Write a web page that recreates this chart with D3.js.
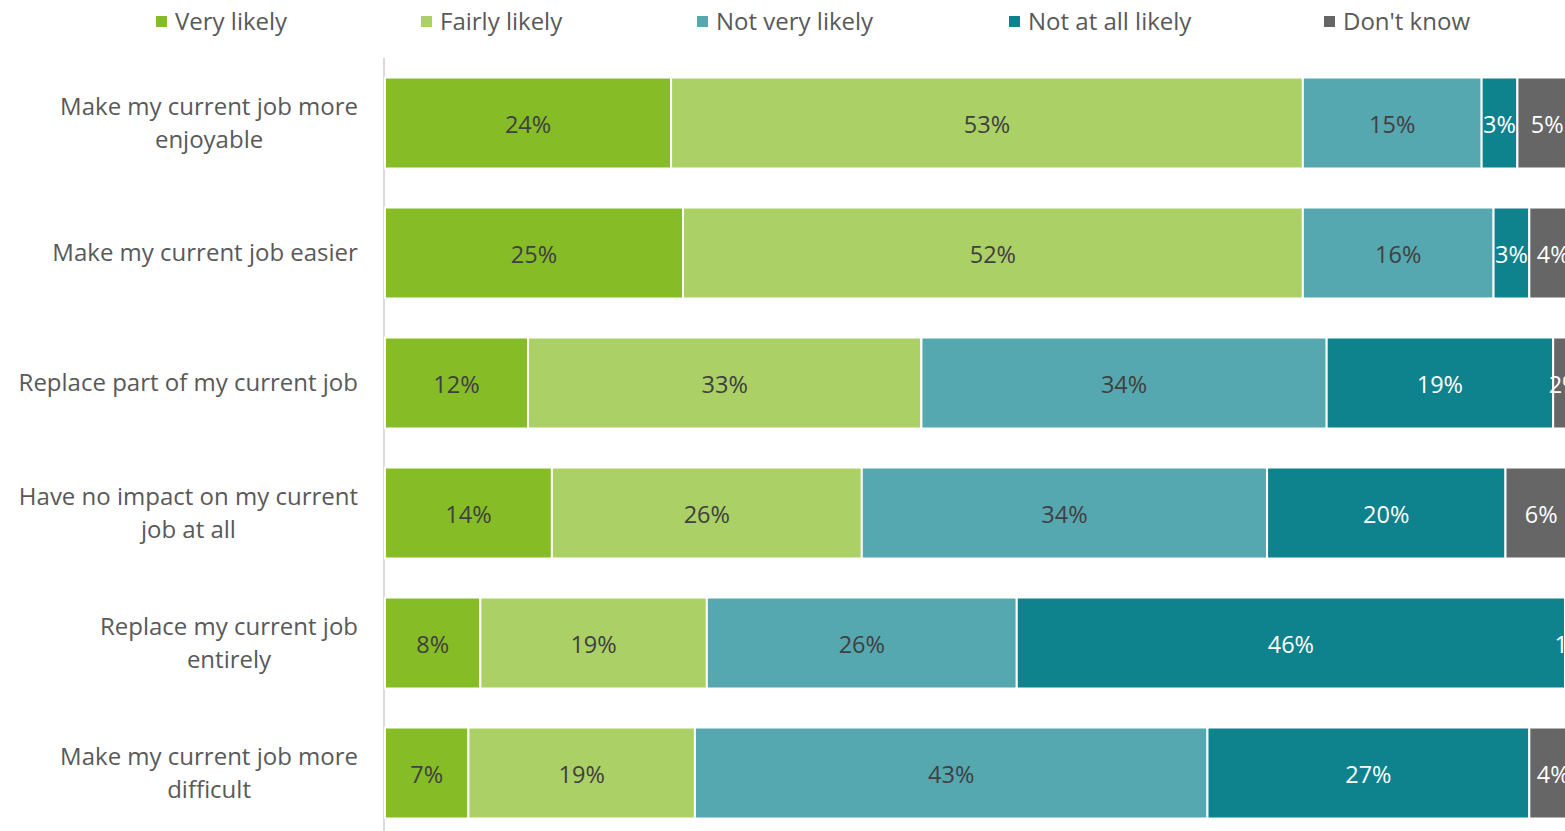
<!DOCTYPE html>
<html>
<head>
<meta charset="utf-8">
<script src="https://cdn.jsdelivr.net/npm/d3@7"></script>
<style>
  body { margin: 0; background: #fff; }
  svg { display: block; font-family: "Open Sans", sans-serif; }
</style>
</head>
<body>
<svg id="chart"></svg>
<script>
// Stacked horizontal bar - likelihood of impact on current job
const width = 1565;
const height = 831;

const categories = [
    "Make my current job more\nenjoyable",
    "Make my current job easier",
    "Replace part of my current job",
    "Have no impact on my current\njob at all",
    "Replace my current job\nentirely",
    "Make my current job more\ndifficult"
];
const seriesNames = ["Very likely", "Fairly likely", "Not very likely", "Not at all likely", "Don't know"];
const veryLikely = [24, 25, 12, 14, 8, 7];
const fairlyLikely = [53, 52, 33, 26, 19, 19];
const notVeryLikely = [15, 16, 34, 34, 26, 43];
const notAtAllLikely = [3, 3, 19, 20, 46, 27];
const dontKnow = [5, 4, 2, 6, 1, 4];

const colors = ["#86bc25", "#abd066", "#56a8b0", "#0e828d", "#666666"];
const textColors = ["#404040", "#404040", "#404040", "#ffffff", "#ffffff"];

function createChart() {
    const chart = d3.select("#chart")
        .attr("width", width)
        .attr("height", height);

    const rows = categories.map((c, i) => ({
        name: c,
        "Very likely": veryLikely[i],
        "Fairly likely": fairlyLikely[i],
        "Not very likely": notVeryLikely[i],
        "Not at all likely": notAtAllLikely[i],
        "Don't know": dontKnow[i]
    }));
    const stacked = d3.stack().keys(seriesNames)(rows);

    const x = d3.scaleLinear().domain([0, 100]).range([385, 1577]);
    const y = d3.scaleBand()
        .domain(categories)
        .range([58, 838])
        .paddingInner(0.3)
        .paddingOuter(0.15);

    // vertical axis line
    chart.append("line")
        .attr("x1", 384).attr("x2", 384)
        .attr("y1", 58).attr("y2", height)
        .attr("stroke", "#d9d9d9")
        .attr("stroke-width", 2);

    // bars
    const layer = chart.append("g")
        .selectAll("g")
        .data(stacked)
        .join("g")
        .attr("fill", (d, i) => colors[i]);

    layer.selectAll("rect")
        .data(d => d)
        .join("rect")
        .attr("x", d => x(d[0]))
        .attr("y", d => y(d.data.name))
        .attr("width", d => x(d[1]) - x(d[0]))
        .attr("height", y.bandwidth())
        .attr("stroke", "#fff")
        .attr("stroke-width", 2);

    // value labels
    layer.each(function(s, si) {
        d3.select(this).selectAll("text")
            .data(s)
            .join("text")
            .attr("x", d => (x(d[0]) + x(d[1])) / 2)
            .attr("y", d => y(d.data.name) + y.bandwidth() / 2 + 1.5)
            .attr("dy", "0.35em")
            .attr("text-anchor", "middle")
            .attr("font-size", 23.5)
            .attr("fill", textColors[si])
            .text(d => (d[1] - d[0]) + "%");
    });

    // category labels
    const labels = chart.append("g")
        .selectAll("text")
        .data(categories)
        .join("text")
        .attr("text-anchor", "middle")
        .attr("font-size", 24)
        .attr("fill", "#595959");

    labels.each(function(c) {
        const lines = c.split("\n");
        const t = d3.select(this);
        const cy = y(c) + y.bandwidth() / 2;
        const lh = 33;
        lines.forEach((ln, k) => {
            t.append("tspan")
                .attr("x", 0)
                .attr("y", cy + (k - (lines.length - 1) / 2) * lh)
                .attr("dy", "0.35em")
                .text(ln);
        });
    });
    // right align block, center lines within it
    labels.each(function() {
        const t = d3.select(this);
        const w = this.getBBox().width;
        t.selectAll("tspan").attr("x", 358 - w / 2);
    });

    // legend
    const legendX = [156, 421, 697, 1009, 1324];
    const legend = chart.append("g")
        .selectAll("g")
        .data(seriesNames)
        .join("g")
        .attr("transform", (d, i) => `translate(${legendX[i]},22)`);

    legend.append("rect")
        .attr("x", 0).attr("y", -6)
        .attr("width", 11).attr("height", 11)
        .attr("fill", (d, i) => colors[i]);

    legend.append("text")
        .attr("x", 19)
        .attr("dy", "0.35em")
        .attr("font-size", 24)
        .attr("fill", "#595959")
        .text(d => d);
}

window.onload = createChart;
</script>
</body>
</html>
